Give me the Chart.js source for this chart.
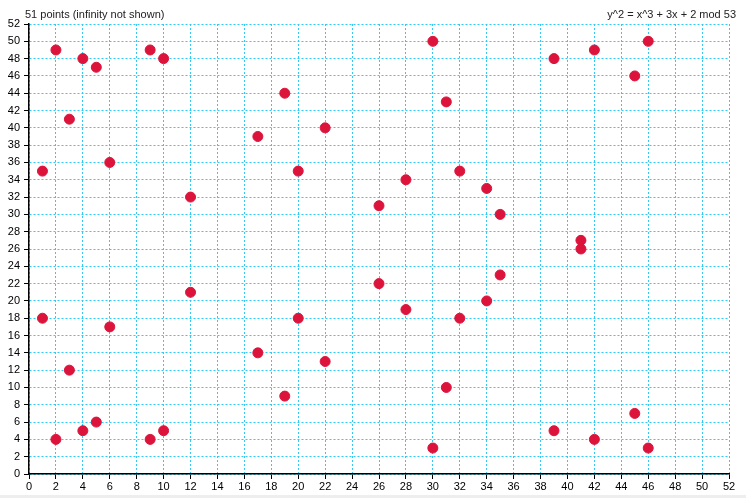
<!DOCTYPE html>
<html>
<head>
<meta charset="utf-8">
<script src="https://cdn.jsdelivr.net/npm/chart.js@4/dist/chart.umd.min.js"></script>
<style>
  html, body { margin: 0; padding: 0; background: #eeeeee; }
  #wrap { width: 746px; height: 495px; background: #fff; }
</style>
</head>
<body>
<div id="wrap"><canvas id="curveChart" width="746" height="495"></canvas></div>
<script>
// 曲線上的點
const xValues = [1, 1, 2, 2, 3, 3, 4, 4, 5, 5, 6, 6, 9, 9, 10, 10, 12, 12, 17, 17, 19, 19, 20, 20, 22, 22,
                 26, 26, 28, 28, 30, 30, 31, 31, 32, 32, 34, 34, 35, 35, 39, 39, 41, 41, 42, 42, 45, 45, 46, 46];
const yValues = [35, 18, 49, 4, 41, 12, 48, 5, 47, 6, 36, 17, 49, 4, 48, 5, 32, 21, 39, 14, 44, 9, 35, 18, 40, 13,
                 31, 22, 34, 19, 50, 3, 43, 10, 35, 18, 33, 20, 30, 23, 48, 5, 27, 26, 49, 4, 46, 7, 50, 3];

const leftTitle = '51 points (infinity not shown)';
const rightTitle = 'y^2 = x^3 + 3x + 2 mod 53';
const axisMin = 0;
const axisMax = 52;
const tickStep = 2;

const font = { family: '"Liberation Sans", Arial, sans-serif', size: 11 };

// 上方左右兩個標題
const titlePlugin = {
    id: 'titles',
    afterDraw(chart) {
        const ctx = chart.ctx;
        ctx.save();
        ctx.font = '11px "Liberation Sans", Arial, sans-serif';
        ctx.fillStyle = '#222';
        ctx.textBaseline = 'middle';
        ctx.textAlign = 'left';
        ctx.fillText(leftTitle, 25, 15);
        ctx.textAlign = 'right';
        ctx.fillText(rightTitle, 736, 15);
        ctx.restore();
    }
};

const gridOpts = {
    color: '#2ecbf5',
    lineWidth: 1,
    tickColor: '#000',
    tickLength: 5,
    tickWidth: 1
};
const borderOpts = { color: '#000', width: 1.5, dash: [2, 2] };

new Chart(document.getElementById('curveChart'), {
    type: 'scatter',
    data: {
        datasets: [{
            data: xValues.map((x, i) => ({ x: x, y: yValues[i] })),
            backgroundColor: '#dc143c',
            borderColor: '#dc143c',
            pointRadius: 5,
            pointHoverRadius: 5
        }]
    },
    options: {
        responsive: false,
        animation: false,
        events: [],
        layout: { padding: { top: 24, right: 17, left: 0, bottom: 0 } },
        plugins: { legend: { display: false }, tooltip: { enabled: false } },
        scales: {
            x: {
                type: 'linear',
                min: axisMin, max: axisMax,
                ticks: { stepSize: tickStep, color: '#000', font: font, padding: 1, maxRotation: 0 },
                grid: gridOpts,
                border: borderOpts,
                afterFit(scale) { scale.height = 21; }
            },
            y: {
                type: 'linear',
                min: axisMin, max: axisMax,
                ticks: { stepSize: tickStep, color: '#000', font: font, padding: 4 },
                grid: gridOpts,
                border: borderOpts,
                afterFit(scale) { scale.width = 29; }
            }
        }
    },
    plugins: [titlePlugin]
});
</script>
</body>
</html>
